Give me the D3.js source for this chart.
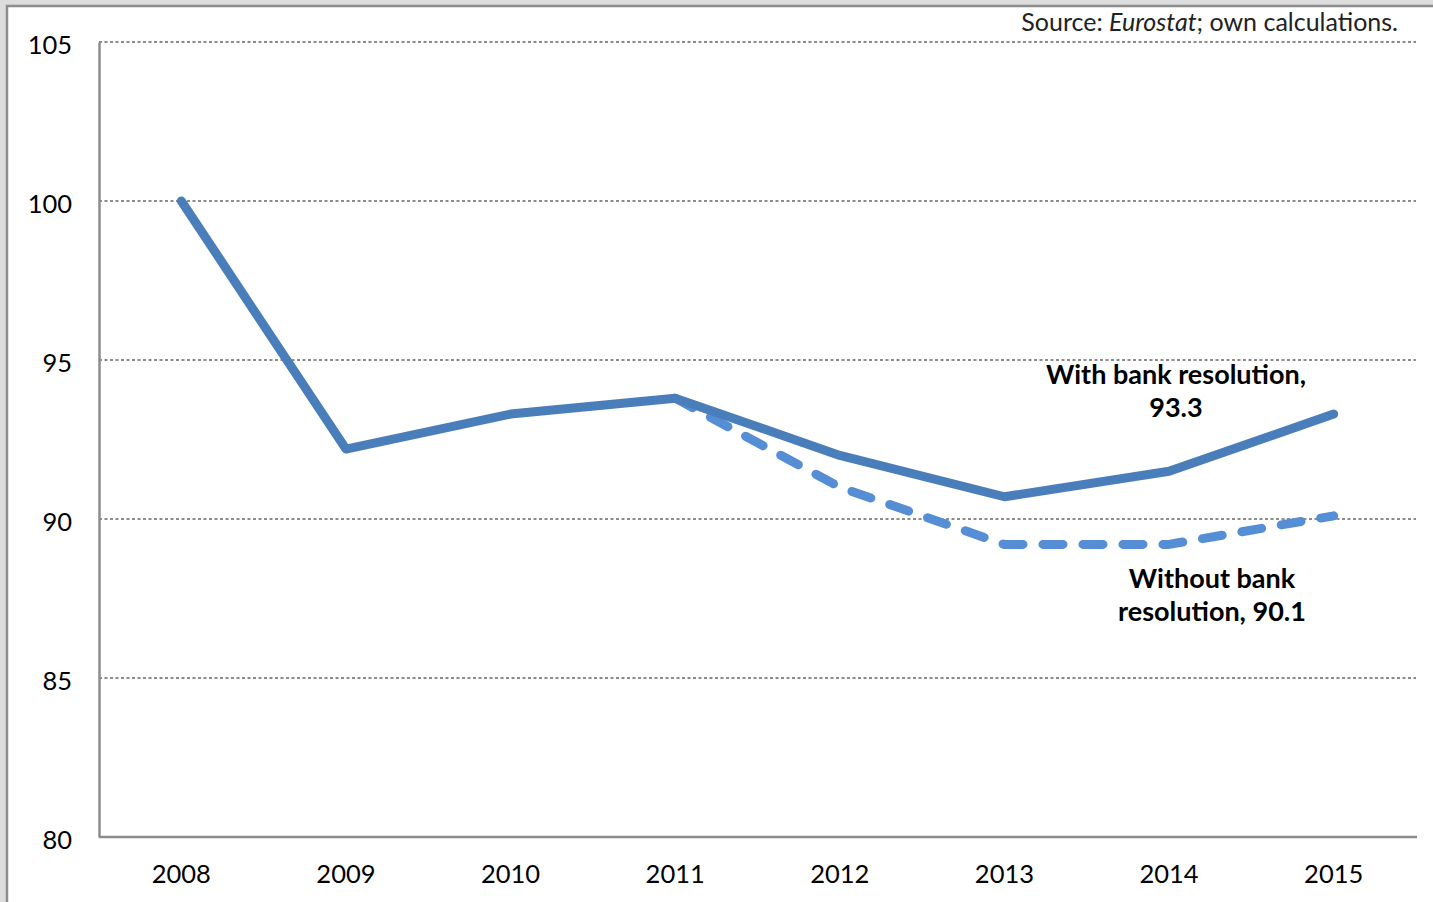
<!DOCTYPE html>
<html><head><meta charset="utf-8">
<script src="https://cdn.jsdelivr.net/npm/d3@7"></script>
<style>
html,body{margin:0;padding:0;background:#dcdcdc;}
svg{display:block;}
text{font-family:Lato,"Open Sans",sans-serif;}
</style></head><body>
<svg id="c" width="1433" height="902"></svg>
<script>
const years = ["2008","2009","2010","2011","2012","2013","2014","2015"];
const withBank = [100, 92.2, 93.3, 93.8, 92.0, 90.7, 91.5, 93.3];
const withoutBank = [null, null, null, 93.8, 91.0, 89.2, 89.2, 90.1];
const yTicks = [80, 85, 90, 95, 100, 105];

const svg = d3.select("#c");
// frame
svg.append("rect").attr("x",7).attr("y",6).attr("width",1440).attr("height",910)
  .attr("fill","#fff").attr("stroke","#8c8c8c").attr("stroke-width",2.5);

const L=99, R=1416, T=42, B=837;
const x = d3.scaleBand().domain(years).range([L,R]);
const y = d3.scaleLinear().domain([80,105]).range([B,T]);

// gridlines
svg.append("g").selectAll("line").data(yTicks.filter(d=>d>80)).join("line")
  .attr("x1",L).attr("x2",R).attr("y1",d=>y(d)).attr("y2",d=>y(d))
  .attr("stroke","#8c8c8c").attr("stroke-width",2).attr("stroke-dasharray","3,2.5");

// y axis
const ya = svg.append("g").attr("transform",`translate(${L},0)`)
  .call(d3.axisLeft(y).tickValues(yTicks).tickSize(0).tickPadding(27));
ya.select(".domain").attr("stroke","#8c8c8c").attr("stroke-width",2.5);
ya.selectAll("text").attr("font-size",25.5).attr("fill","#000").attr("dy","0.45em");

// x axis
const xa = svg.append("g").attr("transform",`translate(0,${B})`)
  .call(d3.axisBottom(x).tickSize(0).tickPadding(28));
xa.select(".domain").attr("stroke","#8c8c8c").attr("stroke-width",2.5).attr("d",`M${L},0H${R+1}`);
xa.selectAll("text").attr("font-size",25.5).attr("fill","#000");

const cx = d => x(d)+x.bandwidth()/2;
const line = d3.line().defined(d=>d[1]!=null).x(d=>cx(d[0])).y(d=>y(d[1]));

svg.append("path").datum(years.map((yr,i)=>[yr,withoutBank[i]]))
  .attr("d",line).attr("fill","none").attr("stroke","#558ed5").attr("stroke-width",9)
  .attr("stroke-dasharray","20,20").attr("stroke-linecap","round").attr("stroke-linejoin","round");

svg.append("path").datum(years.map((yr,i)=>[yr,withBank[i]]))
  .attr("d",line).attr("fill","none").attr("stroke","#4a7ebb").attr("stroke-width",9)
  .attr("stroke-linecap","round").attr("stroke-linejoin","round");

// labels
const lab = (lines, xx, yy) => {
  const t = svg.append("text").attr("x",xx).attr("y",yy).attr("text-anchor","middle")
    .attr("font-size",27).attr("font-weight","bold").attr("fill","#000");
  lines.forEach((s,i)=>t.append("tspan").attr("x",xx).attr("dy",i?33:0).text(s));
};
lab(["With bank resolution,", "93.3"], 1176, 384);
lab(["Without bank", "resolution, " + withoutBank[7]], 1212, 588);

// source
const s = svg.append("text").attr("x",1398).attr("y",31).attr("text-anchor","end")
  .attr("font-size",25).attr("fill","#222");
s.append("tspan").text("Source: ");
s.append("tspan").attr("font-style","italic").text("Eurostat");
s.append("tspan").text("; own calculations.");
</script></body></html>
